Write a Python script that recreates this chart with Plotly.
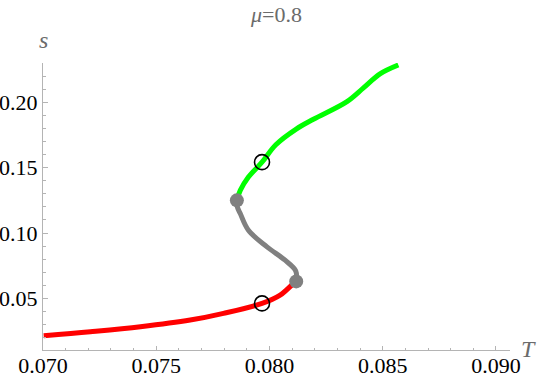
import plotly.graph_objects as go

# ---- data ----
T_low = [0.07003, 0.07209, 0.07430, 0.07650, 0.07797, 0.07967, 0.08047, 0.08106, 0.08118]
s_low = [0.02147, 0.02452, 0.02833, 0.03344, 0.03856, 0.04618, 0.05252, 0.06144, 0.06300]

T_mid = [0.08118, 0.08116, 0.08069, 0.07989, 0.07907, 0.07871, 0.07858, 0.07856]
s_mid = [0.06300, 0.07100, 0.07920, 0.08940, 0.10210, 0.11490, 0.12000, 0.12500]

T_high = [0.07856, 0.07871, 0.07907, 0.07967, 0.08028, 0.08118, 0.08194, 0.08342, 0.08415, 0.08488, 0.08569]
s_high = [0.12500, 0.13260, 0.14280, 0.15420, 0.16750, 0.17950, 0.18700, 0.20050, 0.21100, 0.22170, 0.22850]

T_fold = [0.08118, 0.07856]
s_fold = [0.06300, 0.12500]

T_circ = [0.07967, 0.07967]
s_circ = [0.04620, 0.15420]

x_range = [0.070, 0.09062]
y_range = [0.01056, 0.230]

SERIF = "'Liberation Serif', 'Times New Roman', Times, 'DejaVu Serif', serif"
AXC = "#b4b4b4"
LABC = "#6b6b6b"

fig = go.Figure()
fig.add_trace(go.Scatter(x=T_low, y=s_low, mode="lines",
                         line=dict(color="#ff0000", width=5, shape="spline", smoothing=1.0)))
fig.add_trace(go.Scatter(x=T_mid, y=s_mid, mode="lines",
                         line=dict(color="#808080", width=5, shape="spline", smoothing=1.0)))
fig.add_trace(go.Scatter(x=T_high, y=s_high, mode="lines",
                         line=dict(color="#00ff00", width=5, shape="spline", smoothing=1.0)))
fig.add_trace(go.Scatter(x=T_fold, y=s_fold, mode="markers",
                         marker=dict(color="#808080", size=14, line=dict(width=0))))
fig.add_trace(go.Scatter(x=T_circ, y=s_circ, mode="markers",
                         marker=dict(color="rgba(0,0,0,0)", size=15,
                                     line=dict(color="black", width=1.6))))

fig.update_layout(
    template="none",
    width=540, height=381,
    margin=dict(l=43, r=30, t=63, b=31, autoexpand=False),
    paper_bgcolor="white", plot_bgcolor="white",
    showlegend=False,
    font=dict(family=SERIF, size=22, color="black"),
    title=dict(text="<i>μ</i>=0.8", x=0.5, xref="paper", xanchor="center",
               y=1 - 14 / 381, yanchor="middle",
               font=dict(family=SERIF, size=22, color=LABC)),
)

fig.update_xaxes(
    range=x_range, showgrid=False, zeroline=False, automargin=False,
    showline=True, linecolor=AXC, linewidth=1,
    ticks="inside", ticklen=4, tickcolor=AXC, tickwidth=1,
    tickmode="linear", tick0=0.070, dtick=0.005, tickformat=".3f",
    ticklabelstandoff=-4,
    tickfont=dict(family=SERIF, size=22, color="black"),
    minor=dict(ticks="inside", ticklen=2.5, tickcolor=AXC, dtick=0.001, tick0=0.070, showgrid=False),
)
fig.update_yaxes(
    range=y_range, showgrid=False, zeroline=False, automargin=False,
    showline=True, linecolor=AXC, linewidth=1,
    ticks="inside", ticklen=5, tickcolor=AXC, tickwidth=1,
    tickmode="linear", tick0=0.0, dtick=0.05, tickformat=".2f",
    tickfont=dict(family=SERIF, size=22, color="black"),
    minor=dict(ticks="inside", ticklen=3, tickcolor=AXC, dtick=0.01, tick0=0.0, showgrid=False),
)

fig.add_annotation(text="<i>s</i>", xref="paper", yref="paper",
                   x=0.0, y=(350 - 40) / 287, xanchor="center", yanchor="middle",
                   showarrow=False, font=dict(family=SERIF, size=24, color=LABC))
fig.add_annotation(text="<i>T</i>", xref="paper", yref="paper",
                   x=(528 - 43) / 467, y=(350 - 349) / 287, xanchor="center", yanchor="middle",
                   showarrow=False, font=dict(family=SERIF, size=24, color=LABC))

fig.write_html("out.html", config={"displayModeBar": False},
               post_script="document.body.style.margin='0';document.body.style.padding='0';")
